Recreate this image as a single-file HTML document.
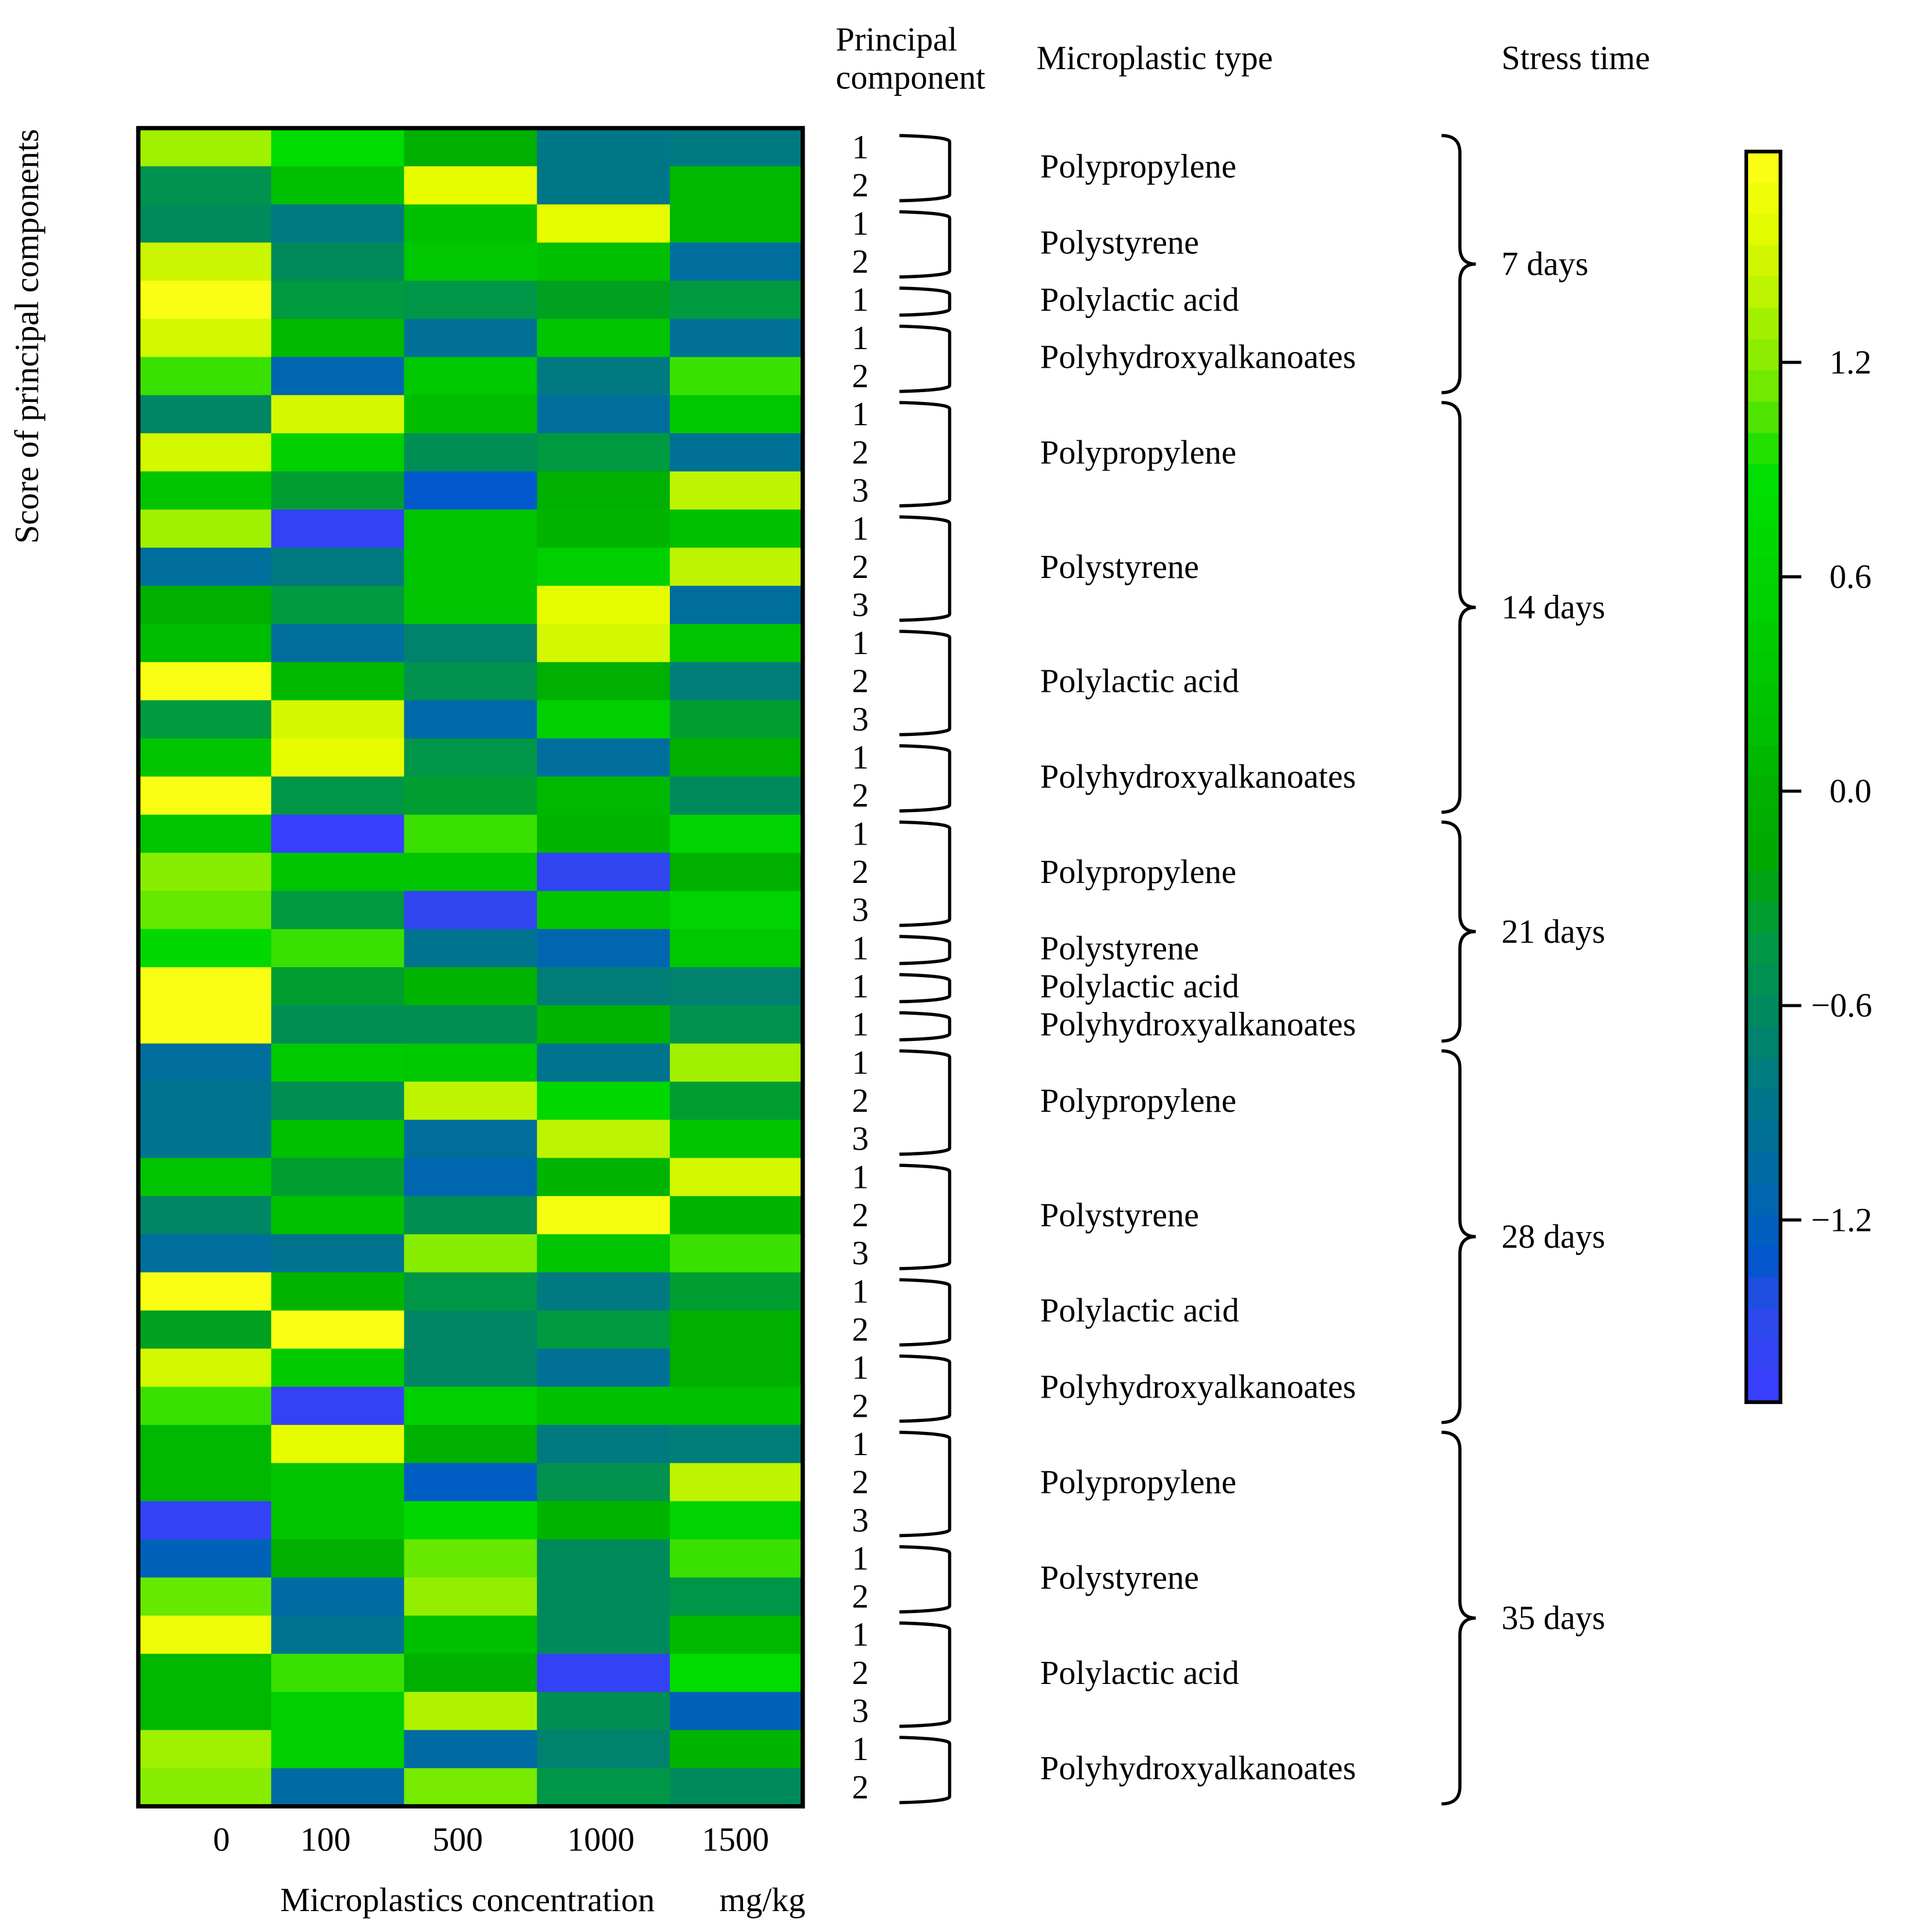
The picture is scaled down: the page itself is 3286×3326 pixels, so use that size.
<!DOCTYPE html>
<html><head><meta charset="utf-8"><style>
html,body{margin:0;padding:0;background:#fff;}
svg{display:block;}
text{font-family:"Liberation Serif",serif;fill:#000;}
</style></head><body>
<svg id="chart" width="3286" height="3326" viewBox="0 0 1560 1568" preserveAspectRatio="none" xmlns="http://www.w3.org/2000/svg">
<g id="cells"></g>
<rect x="113" y="104" width="543" height="1362" fill="none" stroke="#000" stroke-width="3.5"/>
<g id="xticks"></g>
<text x="382" y="1551" font-size="27.5" text-anchor="middle">Microplastics concentration</text>
<text x="623" y="1551" font-size="27.5" text-anchor="middle">mg/kg</text>
<text transform="translate(31,273) rotate(-90)" font-size="27.5" text-anchor="middle">Score of principal components</text>
<text x="683" y="41" font-size="27.5">Principal</text>
<text x="683" y="72" font-size="27.5">component</text>
<text x="847" y="56" font-size="27.5">Microplastic type</text>
<text x="1227" y="56" font-size="27.5">Stress time</text>
<g id="annot"></g>
<g id="cbar"></g>
</svg>
<script>
const concentrations = ["0","100","500","1000","1500"];
const pcLabels = [1,2,1,2,1,1,2, 1,2,3,1,2,3,1,2,3,1,2, 1,2,3,1,1,1, 1,2,3,1,2,3,1,2,1,2, 1,2,3,1,2,1,2,3,1,2];
const types = [["Polypropylene",0,1],["Polystyrene",2,3],["Polylactic acid",4,4],["Polyhydroxyalkanoates",5,6],
["Polypropylene",7,9],["Polystyrene",10,12],["Polylactic acid",13,15],["Polyhydroxyalkanoates",16,17],
["Polypropylene",18,20],["Polystyrene",21,21],["Polylactic acid",22,22],["Polyhydroxyalkanoates",23,23],
["Polypropylene",24,26],["Polystyrene",27,29],["Polylactic acid",30,31],["Polyhydroxyalkanoates",32,33],
["Polypropylene",34,36],["Polystyrene",37,38],["Polylactic acid",39,41],["Polyhydroxyalkanoates",42,43]];
const stressTimes = [["7 days",0,6],["14 days",7,17],["21 days",18,23],["28 days",24,33],["35 days",34,43]];
const scores = [
[1.3,0.8,0.0,-0.85,-0.8],[-0.5,0.2,1.6,-0.85,0.1],[-0.6,-0.8,0.2,1.6,0.1],[1.45,-0.6,0.35,0.2,-1.0],
[1.75,-0.4,-0.45,-0.3,-0.4],[1.5,0.1,-0.95,0.3,-0.95],[1.0,-1.15,0.35,-0.8,1.0],[-0.65,1.5,0.15,-1.0,0.35],
[1.5,0.5,-0.55,-0.4,-0.95],[0.3,-0.35,-1.3,0.0,1.4],[1.3,-1.6,0.3,0.05,0.2],[-1.0,-0.8,0.3,0.5,1.4],
[0.0,-0.4,0.3,1.6,-1.0],[0.15,-1.0,-0.7,1.5,0.3],[1.75,0.1,-0.5,0.0,-0.75],[-0.4,1.5,-1.1,0.5,-0.35],
[0.3,1.6,-0.45,-1.0,0.0],[1.75,-0.45,-0.35,0.1,-0.6],[0.3,-1.65,1.0,0.05,0.6],[1.2,0.3,0.3,-1.55,0.0],
[1.1,-0.4,-1.55,0.3,0.6],[0.7,1.0,-0.9,-1.15,0.35],[1.75,-0.35,0.05,-0.75,-0.7],[1.75,-0.55,-0.55,0.05,-0.5],
[-1.0,0.4,0.35,-0.9,1.3],[-0.9,-0.55,1.4,0.7,-0.35],[-0.9,0.2,-1.0,1.4,0.3],[0.3,-0.35,-1.15,0.05,1.5],
[-0.65,0.2,-0.55,1.7,0.05],[-1.0,-0.9,1.2,0.3,1.0],[1.75,0.05,-0.45,-0.8,-0.35],[-0.3,1.75,-0.65,-0.4,0.0],
[1.5,0.4,-0.65,-0.95,0.0],[1.0,-1.6,0.5,0.2,0.2],[0.1,1.6,0.0,-0.8,-0.75],[0.1,0.3,-1.25,-0.5,1.4],
[-1.6,0.3,0.7,0.05,0.6],[-1.2,0.0,1.1,-0.6,1.0],[1.1,-1.05,1.25,-0.6,-0.45],[1.65,-0.9,0.2,-0.6,0.1],
[0.1,1.0,0.0,-1.6,0.8],[0.1,0.5,1.35,-0.55,-1.2],[1.3,0.5,-1.05,-0.7,0.05],[1.2,-1.05,1.15,-0.45,-0.6]];
const cbTicks = [1.2,0.6,0.0,-0.6,-1.2];
const cbTickLabels = ["1.2","0.6","0.0","\u22120.6","\u22121.2"];

const stops=[[1.79,"#ffff1a"],[1.6,"#e8fc00"],[1.5,"#d4f800"],[1.4,"#bef400"],[1.3,"#a0f000"],[1.2,"#88ec00"],[1.1,"#66e800"],[1.0,"#3ae000"],[0.9,"#00e000"],[0.5,"#00d000"],[0.2,"#00c000"],[0.0,"#00b000"],[-0.2,"#00a800"],[-0.4,"#009a40"],[-0.6,"#008a5c"],[-0.8,"#007a80"],[-1.0,"#006e9c"],[-1.15,"#0066b0"],[-1.3,"#0058cc"],[-1.45,"#2a4ae8"],[-1.71,"#3c3cff"]];
function hx(c){return [1,3,5].map(i=>parseInt(c.substr(i,2),16));}
function cmap(v){
  if(v>=stops[0][0])return stops[0][1];
  for(let i=0;i<stops.length-1;i++){const a=stops[i],b=stops[i+1];
    if(v<=a[0]&&v>=b[0]){const t=(a[0]-v)/(a[0]-b[0]);const ca=hx(a[1]),cb=hx(b[1]);
      return "rgb("+ca.map((x,k)=>Math.round(x+(cb[k]-x)*t)).join(",")+")";}}
  return stops[stops.length-1][1];
}
const NS="http://www.w3.org/2000/svg";
function mk(tag,attrs,parent){const e=document.createElementNS(NS,tag);for(const k in attrs)e.setAttribute(k,attrs[k]);parent.appendChild(e);return e;}
const X0=113,X1=656,Y0=104,Y1=1466;
const nR=scores.length,nC=concentrations.length;
const cw=(X1-X0)/nC,rh=(Y1-Y0)/nR;
const xPos=c=>X0+c*cw, yPos=r=>Y0+r*rh;
const cells=document.getElementById('cells');
scores.forEach((row,r)=>row.forEach((v,c)=>{
  const e=mk('rect',{x:xPos(c),y:yPos(r),width:cw+0.6,height:rh+0.6,fill:cmap(v)},cells);
  
  
}));
const xt=document.getElementById('xticks');
const xLabelX=[181,266,374,491,601];
concentrations.forEach((s,c)=>{
  const e=mk('text',{x:xLabelX[c],y:1502,'font-size':27.5,'text-anchor':'middle'},xt);
  e.textContent=s;
  
  
});
const an=document.getElementById('annot');
pcLabels.forEach((p,r)=>{
  const e=mk('text',{x:703,y:yPos(r)+rh/2+9,'font-size':27.5,'text-anchor':'middle'},an);
  e.textContent=p;
  
  
});
function brace(x0,x1,tip,ya,yb,r,parent,pinch){
  const ym=(ya+yb)/2;
  let d;
  if(pinch){d=`M${x0},${ya} Q${x1},${ya} ${x1},${ya+r} L${x1},${ym-r} Q${x1},${ym} ${tip},${ym} Q${x1},${ym} ${x1},${ym+r} L${x1},${yb-r} Q${x1},${yb} ${x0},${yb}`;}
  else{d=`M${x0},${ya} Q${x1},${ya+1} ${x1},${ya+5} L${x1},${yb-5} Q${x1},${yb-1} ${x0},${yb}`;}
  return mk('path',{d:d,fill:'none',stroke:'#000','stroke-width':2.6},parent);
}
types.forEach(([name,a,b])=>{
  const ya=yPos(a)+6,yb=yPos(b+1)-3;
  const br=brace(735,776,776,ya,yb,0,an,false);
  
  
  const t=mk('text',{x:850,y:(yPos(a)+yPos(b+1))/2+9,'font-size':27.5},an);
  t.textContent=name;
  
  
});
stressTimes.forEach(([name,a,b])=>{
  const ya=yPos(a)+6,yb=yPos(b+1)-2;
  const br=brace(1178,1193,1206,ya,yb,14,an,true);
  
  
  const t=mk('text',{x:1227,y:(ya+yb)/2+9,'font-size':27.5},an);
  t.textContent=name;
  
  
});
const cb=document.getElementById('cbar');
const CB0=123,CB1=1138,CX=1427,CW=28;
const vTop=1.79,vBot=-1.71;
const cbY=v=>CB0+(vTop-v)/(vTop-vBot)*(CB1-CB0);
const nb=40;
for(let i=0;i<nb;i++){
  const v=vTop-(i+0.5)*(vTop-vBot)/nb;
  const e=mk('rect',{x:CX,y:CB0+i*(CB1-CB0)/nb,width:CW,height:(CB1-CB0)/nb+0.5,fill:cmap(v)},cb);
  
  
}
const fr=mk('rect',{x:CX,y:CB0,width:CW,height:CB1-CB0,fill:'none',stroke:'#000','stroke-width':3},cb);


cbTicks.forEach((v,i)=>{
  const y=cbY(v);
  const l=mk('line',{x1:CX+CW,x2:CX+CW+17,y1:y,y2:y,stroke:'#000','stroke-width':2.5},cb);
  
  
  const t=mk('text',{x:v<0?1480:1495,y:y+9,'font-size':27.5},cb);
  t.textContent=cbTickLabels[i];
  
  
});
</script>
</body></html>
